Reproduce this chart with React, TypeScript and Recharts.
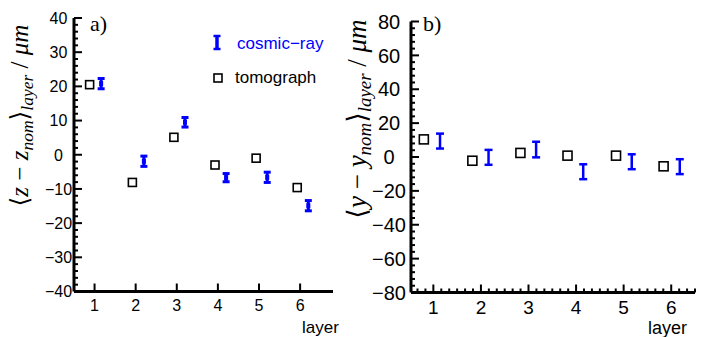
import React from 'react';
import { ScatterChart, Scatter, XAxis, YAxis, ErrorBar, Legend } from 'recharts';

// ---------- data ----------
const layerTicks = [1, 2, 3, 4, 5, 6];
const layerTickLabels = ['1', '2', '3', '4', '5', '6'];

// panel a) <z - z_nom>
const zTicks = [-40, -30, -20, -10, 0, 10, 20, 30, 40];
const zTickLabels = ['\u221240', '\u221230', '\u221220', '\u221210', '0', '10', '20', '30', '40'];
const tomoZX = [0.88, 1.92, 2.93, 3.93, 4.93, 5.93];
const tomoZ = [20.5, -8.1, 5.1, -3.0, -1.0, -9.6];
const cosmicZX = [1.16, 2.2, 3.2, 4.2, 5.2, 6.2];
const cosmicZ = [20.8, -1.9, 9.5, -6.7, -6.6, -14.9];
const cosmicZErr = [1.5, 1.5, 1.4, 1.2, 1.5, 1.5];

// panel b) <y - y_nom>
const yTicks = [-80, -60, -40, -20, 0, 20, 40, 60, 80];
const yTickLabels = ['\u221280', '\u221260', '\u221240', '\u221220', '0', '20', '40', '60', '80'];
const tomoYX = [0.8, 1.82, 2.83, 3.82, 4.84, 5.84];
const tomoY = [10.4, -2.2, 2.4, 0.8, 0.8, -5.5];
const cosmicYX = [1.14, 2.16, 3.16, 4.15, 5.17, 6.18];
const cosmicY = [9.4, -0.2, 4.4, -8.7, -2.8, -5.7];
const cosmicYErr = [4.4, 4.4, 4.6, 4.4, 4.4, 4.4];

const seriesNames = ['cosmic\u2212ray', 'tomograph'];

// ---------- helpers ----------
const BLUE = '#0000ff';
const SANS = '"Liberation Sans", Arial, Helvetica, sans-serif';
const SERIF = '"Liberation Serif", "DejaVu Serif", "Times New Roman", serif';

const range = (a: number, b: number, step: number) => {
  const out: number[] = [];
  const n = Math.round((b - a) / step);
  for (let i = 0; i <= n; i++) out.push(+(a + i * step).toFixed(6));
  return out;
};

const zMinor = range(-40, 40, 2);
const yMinor = range(-80, 80, 4);
const layerMinorB = range(4 / 6, 6.5, 1 / 6).filter((v) => v > 0.53 && v <= 6.5);

const toPts = (xs: number[], ys: number[], errs?: number[]) =>
  xs.map((x, i) => ({ x, y: ys[i], err: errs ? errs[i] : 0 }));

const tomoZData = toPts(tomoZX, tomoZ);
const cosmicZData = toPts(cosmicZX, cosmicZ, cosmicZErr);
const tomoYData = toPts(tomoYX, tomoY);
const cosmicYData = toPts(cosmicYX, cosmicY, cosmicYErr);

const findMajor = (majors: number[], v: number) => majors.findIndex((m) => Math.abs(m - v) < 1e-6);

const makeYTick = (majors: number[], labels: string[], fontSize: number, labelDx: number) => (props: any) => {
  const { x, y, payload } = props;
  const idx = findMajor(majors, payload.value);
  const major = idx >= 0;
  return (
    <g>
      <line x1={x} x2={x + (major ? 8 : 4)} y1={y} y2={y} stroke="#000" strokeWidth={2} />
      {major && (
        <text x={x + labelDx} y={y} dy="0.36em" textAnchor="middle" fontSize={fontSize} fontFamily={SANS} fill="#000">
          {labels[idx]}
        </text>
      )}
    </g>
  );
};

const makeXTick = (majors: number[], labels: string[], fontSize: number, labelDy: number) => (props: any) => {
  const { x, y, payload } = props;
  const idx = findMajor(majors, payload.value);
  const major = idx >= 0;
  return (
    <g>
      <line x1={x} x2={x} y1={y} y2={y - (major ? 8 : 4)} stroke="#000" strokeWidth={2} />
      {major && (
        <text x={x} y={y + labelDy} dy="0.36em" textAnchor="middle" fontSize={fontSize} fontFamily={SANS} fill="#000">
          {labels[idx]}
        </text>
      )}
    </g>
  );
};

const squareShape = (size: number) => (props: any) => {
  const { cx, cy } = props;
  return <rect x={cx - size / 2} y={cy - size / 2} width={size} height={size} fill="#fff" stroke="#000" strokeWidth={1.6} />;
};

const dotShapeA = (props: any) => {
  const { cx, cy } = props;
  return <rect x={cx - 2} y={cy - 2.5} width={4} height={5} fill={BLUE} />;
};

const noShape = () => <g />;

const renderLegend = () => (
  <svg width={140} height={60} style={{ overflow: 'visible', display: 'block' }}>
    <line x1={12} x2={12} y1={6} y2={19} stroke={BLUE} strokeWidth={3.5} />
    <line x1={8.5} x2={15.5} y1={6} y2={6} stroke={BLUE} strokeWidth={2.5} />
    <line x1={8.5} x2={15.5} y1={19} y2={19} stroke={BLUE} strokeWidth={2.5} />
    <text x={32} y={13} dy="0.36em" fontSize={17} fontFamily={SANS} fill={BLUE}>{seriesNames[0]}</text>
    <rect x={9} y={44} width={8} height={8} fill="#fff" stroke="#000" strokeWidth={1.6} />
    <text x={30} y={47} dy="0.36em" fontSize={17} fontFamily={SANS} fill="#000">{seriesNames[1]}</text>
  </svg>
);

const YTitle = ({ x, y, v, size }: { x: number; y: number; v: string; size: number }) => (
  <text transform={`translate(${x},${y}) rotate(-90)`} textAnchor="middle" fontFamily={SERIF} fontSize={size} fill="#000">
    <tspan>{'\u27E8'}</tspan>
    <tspan fontStyle="italic">{v}</tspan>
    <tspan>{' \u2212 '}</tspan>
    <tspan fontStyle="italic">{v}</tspan>
    <tspan fontStyle="italic" fontSize={size * 0.7} dy={size * 0.2}>nom</tspan>
    <tspan dy={-size * 0.2}>{'\u27E9'}</tspan>
    <tspan fontStyle="italic" fontSize={size * 0.7} dy={size * 0.2}>layer</tspan>
    <tspan dy={-size * 0.2}>{' / '}</tspan>
    <tspan fontStyle="italic">{'\u03BCm'}</tspan>
  </text>
);

export default function App() {
  return (
    <div style={{ position: 'absolute', left: 0, top: 0, width: 702, height: 337, background: '#fff', overflow: 'hidden' }}>
      {/* panel a */}
      <div style={{ position: 'absolute', left: 0, top: 0 }}>
        <ScatterChart width={350} height={337} margin={{ top: 18, right: 17, bottom: 0, left: 0 }}>
          <XAxis
            type="number"
            dataKey="x"
            domain={[0.5, 6.8]}
            ticks={layerTicks}
            interval={0}
            height={45.5}
            tickSize={0}
            tickMargin={0}
            tickLine={false}
            axisLine={{ stroke: '#000', strokeWidth: 3 }}
            tick={makeXTick(layerTicks, layerTickLabels, 16, 14)}
          />
          <YAxis
            type="number"
            dataKey="y"
            domain={[-40, 40]}
            ticks={zMinor}
            interval={0}
            width={74}
            tickSize={0}
            tickMargin={0}
            tickLine={false}
            axisLine={{ stroke: '#000', strokeWidth: 3 }}
            tick={makeYTick(zTicks, zTickLabels, 16, -15.5)}
          />
          <Legend
            layout="vertical"
            align="center"
            verticalAlign="middle"
            content={renderLegend}
            wrapperStyle={{ position: 'absolute', left: 205, top: 30, width: 140, height: 60 }}
          />
          <Scatter name={seriesNames[1]} data={tomoZData} shape={squareShape(8)} isAnimationActive={false} />
          <Scatter name={seriesNames[0]} data={cosmicZData} shape={dotShapeA} isAnimationActive={false}>
            <ErrorBar dataKey="err" direction="y" width={3.5} stroke={BLUE} strokeWidth={3} isAnimationActive={false} />
          </Scatter>
        </ScatterChart>
      </div>

      {/* panel b */}
      <div style={{ position: 'absolute', left: 350, top: 0 }}>
        <ScatterChart width={352} height={337} margin={{ top: 21.5, right: 7, bottom: 0, left: 0 }}>
          <XAxis
            type="number"
            dataKey="x"
            domain={[0.53, 6.5]}
            ticks={layerMinorB}
            interval={0}
            height={44.5}
            tickSize={0}
            tickMargin={0}
            tickLine={false}
            axisLine={{ stroke: '#000', strokeWidth: 3 }}
            tick={makeXTick(layerTicks, layerTickLabels, 19, 15)}
          />
          <YAxis
            type="number"
            dataKey="y"
            domain={[-80, 80]}
            ticks={yMinor}
            interval={0}
            width={61}
            tickSize={0}
            tickMargin={0}
            tickLine={false}
            axisLine={{ stroke: '#000', strokeWidth: 3 }}
            tick={makeYTick(yTicks, yTickLabels, 20, -22)}
          />
          <Scatter name={seriesNames[1]} data={tomoYData} shape={squareShape(9)} isAnimationActive={false} />
          <Scatter name={seriesNames[0]} data={cosmicYData} shape={noShape} isAnimationActive={false}>
            <ErrorBar dataKey="err" direction="y" width={4} stroke={BLUE} strokeWidth={2.5} isAnimationActive={false} />
          </Scatter>
        </ScatterChart>
      </div>

      {/* titles / annotations */}
      <svg width={702} height={337} style={{ position: 'absolute', left: 0, top: 0, pointerEvents: 'none' }}>
        <YTitle x={28} y={115.5} v="z" size={25} />
        <YTitle x={366} y={119} v="y" size={27} />
        <text x={90} y={31} fontFamily={SERIF} fontSize={22} fill="#000">a)</text>
        <text x={423} y={31} fontFamily={SERIF} fontSize={22} fill="#000">b)</text>
        <text x={302} y={333} fontFamily={SANS} fontSize={17} fill="#000">layer</text>
        <text x={648} y={333.5} fontFamily={SANS} fontSize={18} fill="#000">layer</text>
      </svg>
    </div>
  );
}
